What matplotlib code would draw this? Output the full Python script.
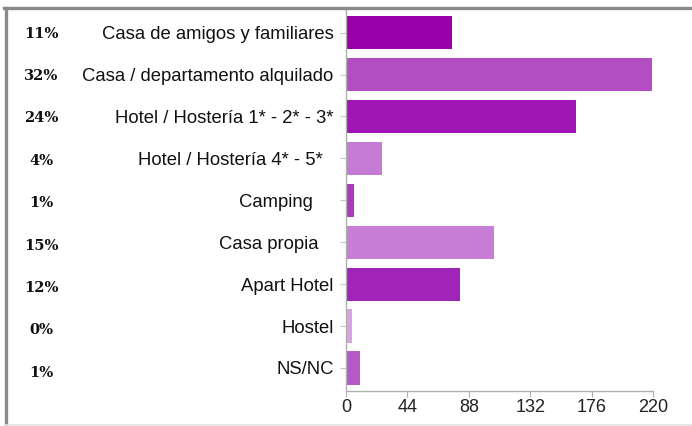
import matplotlib.pyplot as plt
from matplotlib.lines import Line2D

plt.rcParams['font.family'] = ['Liberation Sans', 'DejaVu Sans']

# alojamiento utilizado
categorias = ["Casa de amigos y familiares", "Casa / departamento alquilado",
              "Hotel / Hostería 1* - 2* - 3*", "Hotel / Hostería 4* - 5*  ",
              "Camping    ", "Casa propia   ", "Apart Hotel", "Hostel", "NS/NC"]
cantidades = [76, 219, 165, 26, 6, 106, 82, 4, 10]
porcentajes = ["11%", "32%", "24%", "4%", "1%", "15%", "12%", "0%", "1%"]
colores = ["#9a00aa", "#b24ec2", "#9f16b5", "#c57bd3", "#a83cba",
           "#c87ed6", "#a024b8", "#d7a3e3", "#b65ac7"]
ticks_x = [0, 44, 88, 132, 176, 220]

W, H = 692, 426
fig = plt.figure(figsize=(W / 100, H / 100), dpi=100)
ax = fig.add_axes([346 / W, 1 - 391 / H, 307 / W, 381 / H])

y = list(range(len(categorias)))
ax.barh(y, cantidades, height=0.79, color=colores, edgecolor="none")

ax.set_xlim(0, 220)
ax.set_ylim(8.55, -0.54)
ax.set_xticks(ticks_x)
ax.set_xticklabels([str(t) for t in ticks_x])
ax.set_yticks(y)
ax.set_yticklabels(categorias)

for s in ["top", "right"]:
    ax.spines[s].set_visible(False)
for s in ["left", "bottom"]:
    ax.spines[s].set_color("#b0b0b0")
    ax.spines[s].set_linewidth(1.0)

ax.tick_params(axis="y", length=4, color="#c8c8c8", labelsize=13.3, pad=5, labelcolor="#111111")
ax.tick_params(axis="x", length=4, color="#b0b0b0", labelsize=13, pad=1.5, labelcolor="#222222")

# porcentajes a la izquierda
for i, p in enumerate(porcentajes):
    fig.text(41 / W, 1 - (33.5 + i * 42.4) / H, p, ha="center", va="center",
             fontsize=10.5, fontweight="bold", family="DejaVu Serif", color="#111111")

# marco
fig.add_artist(Line2D([4 / W, 1], [1 - 8 / H, 1 - 8 / H], transform=fig.transFigure,
                      color="#8a8a8a", lw=2.4))
fig.add_artist(Line2D([5.5 / W, 5.5 / W], [0, 1 - 8 / H], transform=fig.transFigure,
                      color="#8a8a8a", lw=2.4))
fig.add_artist(Line2D([5 / W, 1], [1.5 / H, 1.5 / H], transform=fig.transFigure,
                      color="#e2e2e2", lw=1.2))

fig.savefig("out.png", dpi=100)
